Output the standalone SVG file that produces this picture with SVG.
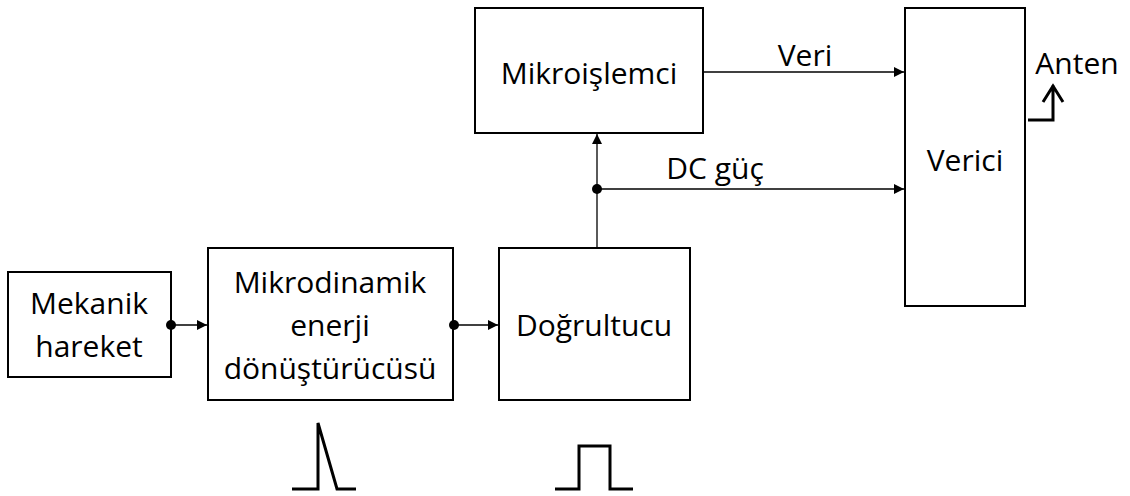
<svg xmlns="http://www.w3.org/2000/svg" width="1130" height="496" viewBox="0 0 1130 496">
<defs>
<style>
.box{fill:#fff;stroke:#000;stroke-width:2}
.t{font-family:"Open Sans","Liberation Sans",sans-serif;font-size:30px;fill:#000;text-anchor:middle}
.c{stroke:#000;stroke-width:1.3;fill:none}
.w{stroke:#000;stroke-width:3;fill:none}
</style>
<marker id="ah" viewBox="0 0 10 10" refX="10" refY="5" markerWidth="10" markerHeight="10" markerUnits="userSpaceOnUse" orient="auto">
<path d="M0,0 L10,5 L0,10 Z" fill="#000"/>
</marker>
</defs>
<rect width="1130" height="496" fill="#fff"/>
<g id="mekanik">
<rect class="box" x="8" y="272" width="163" height="105"/>
<text class="t" x="89" y="314">Mekanik</text>
<text class="t" x="89" y="357">hareket</text>
</g>
<g id="mikrodinamik">
<rect class="box" x="208" y="248" width="245" height="152"/>
<text class="t" x="330" y="293">Mikrodinamik</text>
<text class="t" x="330" y="336">enerji</text>
<text class="t" x="330" y="379">dönüştürücüsü</text>
</g>
<g id="dogrultucu">
<rect class="box" x="499" y="248" width="191" height="152"/>
<text class="t" x="594" y="336">Doğrultucu</text>
</g>
<g id="mikroislemci">
<rect class="box" x="475" y="8" width="228" height="125"/>
<text class="t" x="589" y="84">Mikroişlemci</text>
</g>
<g id="verici">
<rect class="box" x="905" y="8" width="120" height="298"/>
<text class="t" x="965" y="171">Verici</text>
</g>
<g id="anten">
<text class="t" x="1077" y="74">Anten</text>
<path class="w" d="M1028,120 L1053,120 L1053,85 M1043,102 L1053,86 L1063,102" stroke-width="2.5"/>
</g>
<g id="connectors">
<path class="c" d="M171,325 L207,325" marker-end="url(#ah)"/>
<circle cx="171" cy="325" r="5"/>
<path class="c" d="M454,325 L498,325" marker-end="url(#ah)"/>
<circle cx="454" cy="325" r="5"/>
<path class="c" d="M597,248 L597,134" marker-end="url(#ah)"/>
<path class="c" d="M597,189 L904,189" marker-end="url(#ah)"/>
<circle cx="597" cy="189" r="5"/>
<path class="c" d="M703,72 L904,72" marker-end="url(#ah)"/>
<text class="t" x="805" y="66">Veri</text>
<text class="t" x="715" y="179">DC güç</text>
</g>
<g id="waveforms">
<path class="w" d="M292,489 L318,489 L318,423 L337,489 L356,489"/>
<path class="w" d="M555,489 L579,489 L579,446 L610,446 L610,489 L633,489"/>
</g>
</svg>
